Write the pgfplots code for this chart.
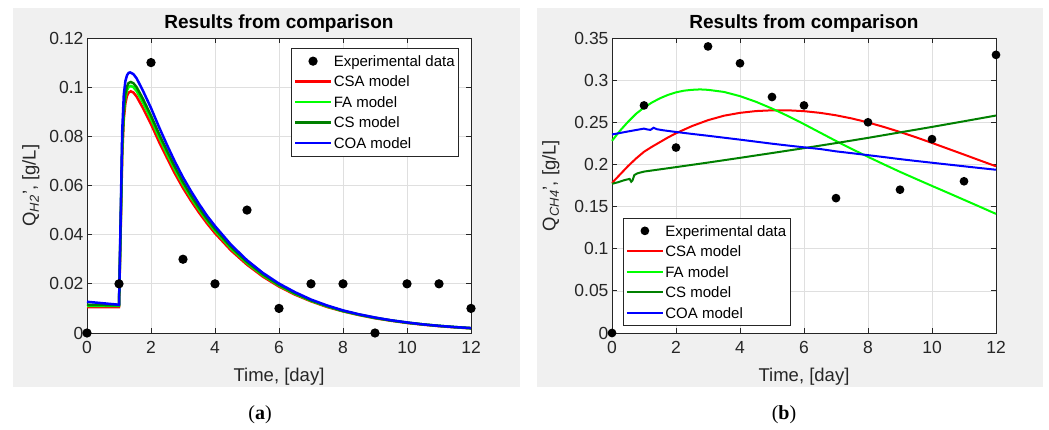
\documentclass[border=0pt]{standalone}
\usepackage{fontspec}
\setmainfont{Liberation Sans}
\newfontfamily\capfont{Liberation Serif}
\usepackage{pgfplots}
\pgfplotsset{compat=1.18}
\definecolor{axgray}{HTML}{262626}
\definecolor{gridgray}{HTML}{DFDFDF}
\definecolor{panel}{HTML}{F0F0F0}
\definecolor{mred}{HTML}{FF0000}
\definecolor{mlime}{HTML}{00FF00}
\definecolor{mgreen}{HTML}{008000}
\definecolor{mblue}{HTML}{0000FF}
\pgfplotsset{
 mystyle/.style={
  scale only axis, width=384pt, height=295pt,
  xmin=0, xmax=12, xtick={0,2,4,6,8,10,12},
  clip=false,
  axis line style={axgray, line width=0.8pt},
  tick style={axgray, line width=0.8pt},
  major tick length=5pt, tick align=inside,
  grid=major, grid style={gridgray, line width=0.7pt},
  axis background/.style={fill=white},
  ticklabel style={font=\fontsize{17.5}{19}\selectfont, text=axgray},
  xticklabel style={yshift=-5pt},
  /pgf/number format/assume math mode=true,
  scaled y ticks=false,
  yticklabel style={/pgf/number format/fixed, /pgf/number format/precision=2},
  label style={font=\fontsize{18.5}{20}\selectfont, text=axgray},
  title style={font=\bfseries\fontsize{19}{21}\selectfont, at={(axis description cs:0.5,1.051)}, anchor=center, yshift=-7pt},
  xlabel style={at={(axis description cs:0.5,-0.149)}, anchor=center},
  legend style={font=\fontsize{15}{17}\selectfont, draw=axgray, line width=0.8pt, fill=white,
    inner xsep=2.5pt, inner ysep=4.5pt, row sep=4pt,
    nodes={inner sep=1.5pt, text height=12pt, text depth=1.5pt}},
  legend cell align=left,
  legend image code/.code={\draw[#1] (0pt,0pt) -- (36pt,0pt);},
 },
 expstyle/.style={only marks, mark=*, mark size=3.3pt, black,
  legend image code/.code={\draw[mark repeat=2,mark phase=2,#1] plot coordinates {(0pt,0pt)(18pt,0pt)(36pt,0pt)};}},
}
\begin{document}
\begin{tikzpicture}
\fill[white] (0pt,0pt) rectangle (1049pt,430pt);
\fill[panel] (13pt,43pt) rectangle (520pt,422pt);
\fill[panel] (537pt,43pt) rectangle (1043pt,422pt);
\node[font=\capfont\fontsize{20}{22}\selectfont, anchor=center] at (260pt,15pt) {(\textbf{a})};
\node[font=\capfont\fontsize{20}{22}\selectfont, anchor=center] at (784pt,15pt) {(\textbf{b})};

\begin{axis}[mystyle, at={(87pt,97pt)}, anchor=south west,
  ymin=0, ymax=0.12, ytick={0,0.02,0.04,0.06,0.08,0.1,0.12},
  title={Results from comparison},
  xlabel={Time, [day]},
  ylabel={Q\textsubscript{\itshape H2}', [g/L]},
  ylabel style={at={(axis description cs:-0.146,0.5)}, anchor=center},
  legend style={at={(0.969,0.966)}, anchor=north east},
  every axis plot/.append style={line width=2.5pt}]
\addplot[expstyle] coordinates {(0,0)(1,0.02)(2,0.11)(3,0.03)(4,0.02)(5,0.05)(6,0.01)(7,0.02)(8,0.02)(9,0)(10,0.02)(11,0.02)(12,0.01)};
\addlegendentry{Experimental data}
\addplot[mred, no marks] coordinates {(0,0.0105)(0.5,0.0105)(1,0.0105)(1.05,0.04)(1.1,0.072)(1.15,0.087)(1.2,0.0935)(1.25,0.0965)(1.3,0.0978)(1.37,0.0983)(1.45,0.0978)(1.55,0.0962)(1.75,0.0915)(2,0.085)(2.25,0.0778)(2.5,0.0712)(2.75,0.0648)(3,0.059)(3.25,0.0538)(3.5,0.049)(3.75,0.0446)(4,0.0406)(4.5,0.0336)(5,0.0278)(5.5,0.0229)(6,0.0189)(6.5,0.0156)(7,0.0129)(7.5,0.0106)(8,0.0088)(8.5,0.0073)(9,0.006)(9.5,0.005)(10,0.0041)(10.5,0.0034)(11,0.0028)(11.5,0.0023)(12,0.0019)};
\addlegendentry{CSA model}
\addplot[mlime, no marks] coordinates {(0,0.011)(1,0.011)(1.05,0.042)(1.1,0.075)(1.15,0.0895)(1.2,0.096)(1.25,0.0988)(1.3,0.1)(1.37,0.1005)(1.45,0.1)(1.55,0.0984)(1.75,0.0937)(2,0.087)(2.25,0.0797)(2.5,0.0729)(2.75,0.0664)(3,0.0604)(3.25,0.0551)(3.5,0.0502)(3.75,0.0457)(4,0.0416)(4.5,0.0344)(5,0.0284)(5.5,0.0234)(6,0.0193)(6.5,0.0159)(7,0.0131)(7.5,0.0108)(8,0.0089)(8.5,0.0074)(9,0.0061)(9.5,0.0051)(10,0.0042)(10.5,0.0035)(11,0.0029)(11.5,0.0024)(12,0.0019)};
\addlegendentry{FA model}
\addplot[mgreen, no marks] coordinates {(0,0.0115)(1,0.0113)(1.05,0.043)(1.1,0.077)(1.15,0.091)(1.2,0.0975)(1.25,0.1003)(1.3,0.1017)(1.37,0.1021)(1.45,0.1016)(1.55,0.1)(1.75,0.0952)(2,0.0884)(2.25,0.081)(2.5,0.0741)(2.75,0.0675)(3,0.0614)(3.25,0.056)(3.5,0.051)(3.75,0.0464)(4,0.0423)(4.5,0.035)(5,0.0289)(5.5,0.0238)(6,0.0196)(6.5,0.0162)(7,0.0133)(7.5,0.011)(8,0.009)(8.5,0.0075)(9,0.0062)(9.5,0.0051)(10,0.0042)(10.5,0.0035)(11,0.0029)(11.5,0.0024)(12,0.002)};
\addlegendentry{CS model}
\addplot[mblue, no marks] coordinates {(0,0.0127)(0.5,0.0121)(1,0.0115)(1.05,0.046)(1.1,0.082)(1.15,0.097)(1.2,0.1025)(1.25,0.1048)(1.3,0.1058)(1.35,0.106)(1.45,0.1053)(1.55,0.1036)(1.75,0.0985)(2,0.0915)(2.25,0.0838)(2.5,0.0765)(2.75,0.0696)(3,0.0633)(3.25,0.0577)(3.5,0.0525)(3.75,0.0477)(4,0.0435)(4.5,0.0359)(5,0.0296)(5.5,0.0244)(6,0.0201)(6.5,0.0166)(7,0.0136)(7.5,0.0112)(8,0.0092)(8.5,0.0076)(9,0.0063)(9.5,0.0052)(10,0.0043)(10.5,0.0035)(11,0.0029)(11.5,0.0024)(12,0.002)};
\addlegendentry{COA model}
\end{axis}

\begin{axis}[mystyle, at={(612pt,97pt)}, anchor=south west,
  ymin=0, ymax=0.35, ytick={0,0.05,0.1,0.15,0.2,0.25,0.3,0.35},
  title={Results from comparison},
  xlabel={Time, [day]},
  ylabel={Q\textsubscript{\itshape CH4}', [g/L]},
  ylabel style={at={(axis description cs:-0.159,0.5)}, anchor=center},
  legend style={at={(0.0286,0.0237)}, anchor=south west},
  every axis plot/.append style={line width=2pt}]
\addplot[expstyle] coordinates {(0,0)(1,0.27)(2,0.22)(3,0.34)(4,0.32)(5,0.28)(6,0.27)(7,0.16)(8,0.25)(9,0.17)(10,0.23)(11,0.18)(12,0.33)};
\addlegendentry{Experimental data}
\addplot[mred, no marks] coordinates {(0,0.178)(0.25,0.188)(0.5,0.198)(0.75,0.207)(1,0.215)(1.25,0.221)(1.5,0.2265)(1.75,0.232)(2,0.237)(2.5,0.2455)(3,0.2525)(3.5,0.2578)(4,0.2612)(4.5,0.2633)(5,0.2642)(5.5,0.2642)(6,0.2632)(6.5,0.2612)(7,0.2583)(7.5,0.2545)(8,0.2498)(8.5,0.2444)(9,0.2385)(9.5,0.2322)(10,0.2255)(10.5,0.2186)(11,0.2117)(11.5,0.2047)(12,0.1978)};
\addlegendentry{CSA model}
\addplot[mlime, no marks] coordinates {(0,0.228)(0.25,0.24)(0.5,0.2505)(0.75,0.26)(1,0.2675)(1.25,0.2735)(1.5,0.2785)(1.75,0.2825)(2,0.2855)(2.25,0.2875)(2.5,0.2885)(2.75,0.289)(3,0.2885)(3.5,0.286)(4,0.281)(4.5,0.2743)(5,0.2663)(5.5,0.2574)(6,0.2478)(6.5,0.2378)(7,0.2278)(7.5,0.2182)(8,0.209)(8.5,0.2)(9,0.1912)(9.5,0.1828)(10,0.1745)(10.5,0.1663)(11,0.158)(11.5,0.1497)(12,0.1413)};
\addlegendentry{FA model}
\addplot[mgreen, no marks] coordinates {(0,0.177)(0.2,0.179)(0.4,0.1815)(0.55,0.1828)(0.6,0.1795)(0.64,0.181)(0.7,0.1875)(0.8,0.1895)(1,0.1915)(2,0.1968)(3,0.2022)(4,0.2078)(5,0.2135)(6,0.2193)(7,0.2253)(8,0.2315)(9,0.238)(10,0.2445)(11,0.2512)(12,0.258)};
\addlegendentry{CS model}
\addplot[mblue, no marks] coordinates {(0,0.2355)(0.25,0.2373)(0.5,0.2391)(0.75,0.2408)(1,0.2425)(1.1,0.2415)(1.2,0.241)(1.3,0.2435)(1.4,0.2418)(1.6,0.2405)(2,0.2385)(2.5,0.2362)(3,0.234)(3.5,0.2317)(4,0.2294)(4.5,0.227)(5,0.2246)(5.5,0.2224)(6,0.2203)(6.5,0.2183)(7,0.2155)(7.5,0.2133)(8,0.211)(8.5,0.2087)(9,0.2063)(9.5,0.2041)(10,0.202)(10.5,0.1999)(11,0.1978)(11.5,0.1957)(12,0.1937)};
\addlegendentry{COA model}
\end{axis}
\end{tikzpicture}
\end{document}
